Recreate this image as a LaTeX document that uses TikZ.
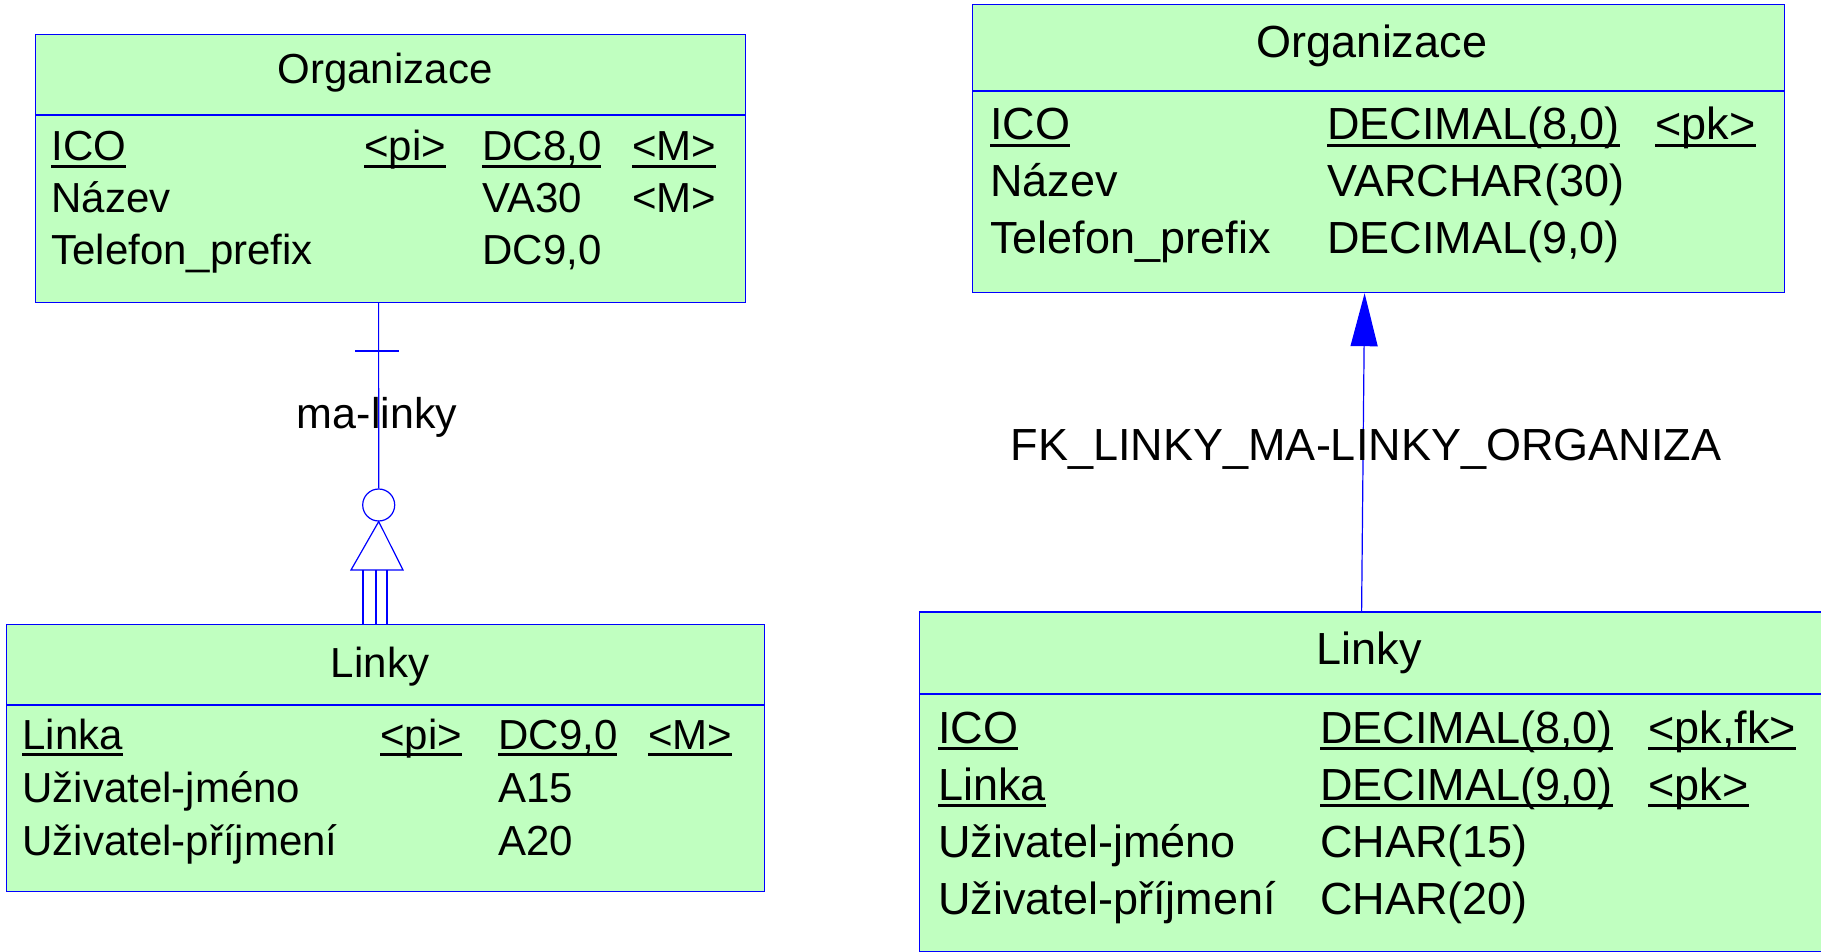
\documentclass[tikz,border=0pt]{standalone}
\usepackage{fontspec}
\setmainfont{Liberation Sans}
\usetikzlibrary{arrows.meta,calc}
\definecolor{ergreen}{RGB}{192,255,192}
\definecolor{erblue}{RGB}{0,0,255}
\newsavebox\ulbox
\newcommand\keyul[1]{\sbox\ulbox{#1}\rlap{\rule[-0.16em]{\wd\ulbox}{0.07em}}\usebox\ulbox}
\newcommand\cdmfont{\fontsize{21}{25}\selectfont}
\newcommand\pdmfont{\fontsize{22.5}{27}\selectfont}
\tikzset{
    entity/.style={
        draw=erblue, fill=ergreen, line width=0.6pt,
        inner sep=0pt, anchor=north west
    },
    erline/.style={draw=erblue, line width=0.6pt},
    attr/.style={inner sep=0pt, anchor=base west},
    title/.style={inner sep=0pt, anchor=base}
}

\begin{document}
\begin{tikzpicture}[x=0.5pt, y=-0.5pt]
\useasboundingbox (0,0) rectangle (1821,952);

% Conceptual model: Organizace
\node[entity, minimum width=355pt, minimum height=134pt] (orgA) at (35,34) {};
\draw[erline] ([yshift=-40.5pt]orgA.north west) -- ([yshift=-40.5pt]orgA.north east);
\node[title, font=\cdmfont] (orgAt) at (385,84) {Organizace};
\node[attr, font=\cdmfont] (orgA1) at (51,161) {\keyul{ICO}};
\node[attr, font=\cdmfont] (orgA1i) at (364,161) {\keyul{<pi>}};
\node[attr, font=\cdmfont] (orgA1t) at (482,161) {\keyul{DC8,0}};
\node[attr, font=\cdmfont] (orgA1m) at (632,161) {\keyul{<M>}};
\node[attr, font=\cdmfont] (orgA2) at (51,213) {Název};
\node[attr, font=\cdmfont] (orgA2t) at (482,213) {VA30};
\node[attr, font=\cdmfont] (orgA2m) at (632,213) {<M>};
\node[attr, font=\cdmfont] (orgA3) at (51,265) {Telefon\_prefix};
\node[attr, font=\cdmfont] (orgA3t) at (482,265) {DC9,0};

% Conceptual model: Linky
\node[entity, minimum width=379pt, minimum height=133.5pt] (linkyA) at (6,624) {};
\draw[erline] ([yshift=-40.5pt]linkyA.north west) -- ([yshift=-40.5pt]linkyA.north east);
\node[title, font=\cdmfont] (linkyAt) at (380,677) {Linky};
\node[attr, font=\cdmfont] (linkyA1) at (22,749) {\keyul{Linka}};
\node[attr, font=\cdmfont] (linkyA1i) at (380,749) {\keyul{<pi>}};
\node[attr, font=\cdmfont] (linkyA1t) at (498,749) {\keyul{DC9,0}};
\node[attr, font=\cdmfont] (linkyA1m) at (648,749) {\keyul{<M>}};
\node[attr, font=\cdmfont] (linkyA2) at (22,802) {Uživatel-jméno};
\node[attr, font=\cdmfont] (linkyA2t) at (498,802) {A15};
\node[attr, font=\cdmfont] (linkyA3) at (22,855) {Uživatel-příjmení};
\node[attr, font=\cdmfont] (linkyA3t) at (498,855) {A20};

% Relationship ma-linky
\coordinate (relTop) at ([xshift=-6pt]orgA.south);
\node[draw=erblue, line width=0.6pt, circle, minimum size=16pt, inner sep=0pt] (opt) at (378.7,505) {};
\draw[erline] (relTop) -- (opt.north);
\draw[erline] (355,351) -- (399,351);
\node[title, font=\fontsize{21.5}{25}\selectfont] (rel) at (377,429) {ma-linky};
\coordinate (triL) at (351,570);
\coordinate (triR) at (403,570);
\draw[erline] (opt.south) -- (triL) -- (triR) -- cycle;
\foreach \x in {363,376,387}
    \draw[erline] (\x,570) -- (\x,624);

% Physical model: Organizace
\node[entity, minimum width=406pt, minimum height=144pt] (orgB) at (972,4) {};
\draw[erline] ([yshift=-43.5pt]orgB.north west) -- ([yshift=-43.5pt]orgB.north east);
\node[title, font=\pdmfont] (orgBt) at (1372,58) {Organizace};
\node[attr, font=\pdmfont] (orgB1) at (990,140) {\keyul{ICO}};
\node[attr, font=\pdmfont] (orgB1t) at (1327,140) {\keyul{DECIMAL(8,0)}};
\node[attr, font=\pdmfont] (orgB1k) at (1655,140) {\keyul{<pk>}};
\node[attr, font=\pdmfont] (orgB2) at (990,197) {Název};
\node[attr, font=\pdmfont] (orgB2t) at (1327,197) {VARCHAR(30)};
\node[attr, font=\pdmfont] (orgB3) at (990,254) {Telefon\_prefix};
\node[attr, font=\pdmfont] (orgB3t) at (1327,254) {DECIMAL(9,0)};

% Physical model: Linky
\node[entity, minimum width=455.5pt, minimum height=169.85pt] (linkyB) at (919,611.3) {};
\draw[erline] ([yshift=-41.3pt]linkyB.north west) -- ([yshift=-41.3pt]linkyB.north east);
\node[title, font=\pdmfont] (linkyBt) at (1369,664) {Linky};
\node[attr, font=\pdmfont] (linkyB1) at (938,743) {\keyul{ICO}};
\node[attr, font=\pdmfont] (linkyB1t) at (1320,743) {\keyul{DECIMAL(8,0)}};
\node[attr, font=\pdmfont] (linkyB1k) at (1648,743) {\keyul{<pk,fk>}};
\node[attr, font=\pdmfont] (linkyB2) at (938,800) {\keyul{Linka}};
\node[attr, font=\pdmfont] (linkyB2t) at (1320,800) {\keyul{DECIMAL(9,0)}};
\node[attr, font=\pdmfont] (linkyB2k) at (1648,800) {\keyul{<pk>}};
\node[attr, font=\pdmfont] (linkyB3) at (938,857) {Uživatel-jméno};
\node[attr, font=\pdmfont] (linkyB3t) at (1320,857) {CHAR(15)};
\node[attr, font=\pdmfont] (linkyB4) at (938,914) {Uživatel-příjmení};
\node[attr, font=\pdmfont] (linkyB4t) at (1320,914) {CHAR(20)};

% Reference FK_LINKY_MA-LINKY_ORGANIZA
\draw[erline, -{Triangle[length=26.5pt, width=13.5pt]}]
    ([xshift=-6.75pt]linkyB.north) -- ([xshift=-7pt]orgB.south);
\node[title, font=\fontsize{22.5}{27}\selectfont] (fk) at (1366,460) {FK\_LINKY\_MA-LINKY\_ORGANIZA};

\end{tikzpicture}
\end{document}
